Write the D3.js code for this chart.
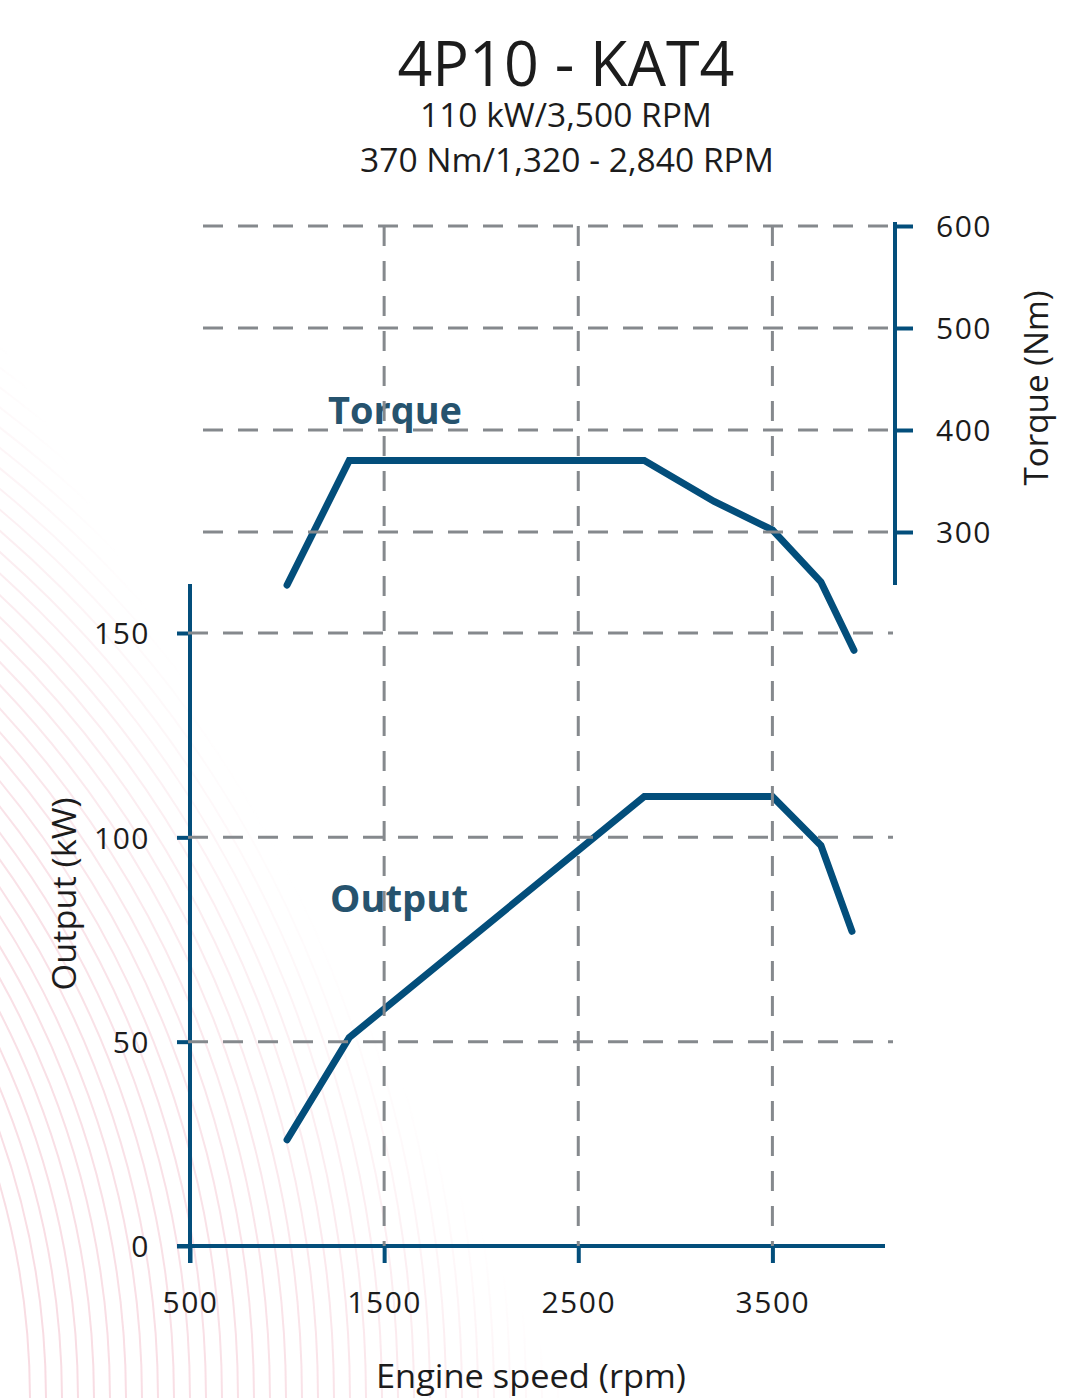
<!DOCTYPE html>
<html>
<head>
<meta charset="utf-8">
<script src="https://cdn.jsdelivr.net/npm/d3@7"></script>
<style>
  html, body { margin: 0; padding: 0; background: #ffffff; }
  svg { display: block; }
</style>
</head>
<body>
<svg id="chart" width="1071" height="1398"></svg>
<script>
// ---------------- data ----------------
const title = "4P10 - KAT4";
const subtitle1 = "110 kW/3,500 RPM";
const subtitle2 = "370 Nm/1,320 - 2,840 RPM";

const xTicks = [500, 1500, 2500, 3500];
const outputTicks = [0, 50, 100, 150];
const torqueTicks = [300, 400, 500, 600];
const gridX = [1500, 2500, 3500];

const torqueRpm = [1000, 1320, 2840, 3200, 3500, 3750, 3920];
const torqueNm  = [248, 370, 370, 330, 302, 251, 184];

const outputRpm = [1000, 1320, 2840, 3500, 3750, 3910];
const outputKw  = [26, 51, 110, 110, 98, 77];

// ---------------- layout ----------------
const svg = d3.select("#chart");
const W = 1071, H = 1398;
const BLUE = "#034e7b";
const GRID = "#85898d";
const TXT = "#1c1c1c";
const FONT = "'Open Sans', 'Noto Sans', sans-serif";

const x = d3.scaleLinear().domain([500, 4080]).range([190, 885]);
const yOut = d3.scaleLinear().domain([0, 150]).range([1246, 633]);
const yTq = d3.scaleLinear().domain([300, 600]).range([532, 226]);

svg.append("rect").attr("width", W).attr("height", H).attr("fill", "#ffffff");

// ---------------- decorative background arcs ----------------
const defs = svg.append("defs");
const lg = defs.append("linearGradient").attr("id", "fade")
  .attr("gradientUnits", "userSpaceOnUse")
  .attr("x1", 0).attr("y1", 1398).attr("x2", 493).attr("y2", 1133);
lg.append("stop").attr("offset", 0).attr("stop-color", "#fff").attr("stop-opacity", 1);
lg.append("stop").attr("offset", 0.5).attr("stop-color", "#fff").attr("stop-opacity", 0.8);
lg.append("stop").attr("offset", 0.75).attr("stop-color", "#fff").attr("stop-opacity", 0.45);
lg.append("stop").attr("offset", 0.9).attr("stop-color", "#fff").attr("stop-opacity", 0);
defs.append("mask").attr("id", "fademask")
  .append("rect").attr("width", W).attr("height", H).attr("fill", "url(#fade)");
const arcs = svg.append("g").attr("mask", "url(#fademask)");
const radii = d3.range(780, 1330, 16);
arcs.selectAll("circle").data(radii).join("circle")
  .attr("cx", -750).attr("cy", 1400).attr("r", d => d)
  .attr("fill", "none").attr("stroke", "#f8dbe2").attr("stroke-width", 2);

// ---------------- title ----------------
svg.append("text").attr("x", 566).attr("y", 86).attr("text-anchor", "middle")
  .attr("font-family", FONT).attr("font-size", 62).attr("fill", TXT)
  .attr("textLength", 337).attr("lengthAdjust", "spacingAndGlyphs")
  .text(title);
svg.append("text").attr("x", 566).attr("y", 127).attr("text-anchor", "middle")
  .attr("font-family", FONT).attr("font-size", 32).attr("fill", TXT)
  .attr("textLength", 292).attr("lengthAdjust", "spacingAndGlyphs")
  .text(subtitle1);
svg.append("text").attr("x", 567).attr("y", 172).attr("text-anchor", "middle")
  .attr("font-family", FONT).attr("font-size", 32).attr("fill", TXT)
  .attr("textLength", 414).attr("lengthAdjust", "spacingAndGlyphs")
  .text(subtitle2);

// ---------------- curves ----------------
const torqueData = torqueRpm.map((r, i) => ({ r, v: torqueNm[i] }));
const outputData = outputRpm.map((r, i) => ({ r, v: outputKw[i] }));

const lineT = d3.line().x(d => x(d.r)).y(d => yTq(d.v));
const lineO = d3.line().x(d => x(d.r)).y(d => yOut(d.v));

// ---------------- axes ----------------
// output (left) axis
const gOut = svg.append("g").attr("transform", "translate(190,0)")
  .call(d3.axisLeft(yOut).tickValues(outputTicks).tickSize(13).tickSizeOuter(0).tickFormat(d3.format("d")));
gOut.select(".domain").remove();
gOut.selectAll(".tick line").attr("stroke", BLUE).attr("stroke-width", 4);
gOut.selectAll(".tick text").attr("x", -40).attr("font-family", FONT).attr("font-size", 30)
  .attr("letter-spacing", 1.5)
  .attr("fill", TXT).attr("text-anchor", "end").attr("dy", "0.36em");
svg.append("line").attr("x1", 190).attr("x2", 190)
  .attr("y1", yOut(162)).attr("y2", 1263)
  .attr("stroke", BLUE).attr("stroke-width", 4);

// x axis
const gX = svg.append("g").attr("transform", "translate(0,1246)")
  .call(d3.axisBottom(x).tickValues(xTicks).tickSize(17).tickSizeOuter(0).tickFormat(d3.format("d")));
gX.select(".domain").remove();
gX.selectAll(".tick line").attr("stroke", BLUE).attr("stroke-width", 4);
gX.selectAll(".tick text").attr("y", 67).attr("font-family", FONT).attr("font-size", 30)
  .attr("letter-spacing", 1.5)
  .attr("fill", TXT).attr("dy", 0);
svg.append("line").attr("x1", 177).attr("x2", x(4080))
  .attr("y1", 1246).attr("y2", 1246)
  .attr("stroke", BLUE).attr("stroke-width", 4);

// torque (right) axis
const gTq = svg.append("g").attr("transform", "translate(895,0)")
  .call(d3.axisRight(yTq).tickValues(torqueTicks).tickSize(18).tickSizeOuter(0).tickFormat(d3.format("d")));
gTq.select(".domain").remove();
gTq.selectAll(".tick line").attr("stroke", BLUE).attr("stroke-width", 4);
gTq.selectAll(".tick text").attr("x", 41).attr("font-family", FONT).attr("font-size", 30)
  .attr("letter-spacing", 1.5)
  .attr("fill", TXT).attr("dy", "0.36em");
svg.append("line").attr("x1", 895).attr("x2", 895)
  .attr("y1", yTq(604)).attr("y2", yTq(248))
  .attr("stroke", BLUE).attr("stroke-width", 4);

// axis titles
svg.append("text").attr("transform", "translate(76,894) rotate(-90)")
  .attr("text-anchor", "middle").attr("font-family", FONT).attr("font-size", 32).attr("fill", TXT)
  .attr("textLength", 193).attr("lengthAdjust", "spacingAndGlyphs")
  .text("Output (kW)");
svg.append("text").attr("transform", "translate(1048,388) rotate(-90)")
  .attr("text-anchor", "middle").attr("font-family", FONT).attr("font-size", 32).attr("fill", TXT)
  .attr("textLength", 195).attr("lengthAdjust", "spacingAndGlyphs")
  .text("Torque (Nm)");
svg.append("text").attr("x", 531).attr("y", 1388).attr("text-anchor", "middle")
  .attr("font-family", FONT).attr("font-size", 32).attr("fill", TXT)
  .attr("textLength", 310).attr("lengthAdjust", "spacingAndGlyphs")
  .text("Engine speed (rpm)");

// curves
svg.append("path").datum(torqueData).attr("d", lineT)
  .attr("fill", "none").attr("stroke", BLUE).attr("stroke-width", 7)
  .attr("stroke-linecap", "round").attr("stroke-linejoin", "miter");
svg.append("path").datum(outputData).attr("d", lineO)
  .attr("fill", "none").attr("stroke", BLUE).attr("stroke-width", 7)
  .attr("stroke-linecap", "round").attr("stroke-linejoin", "miter");

// series labels
svg.append("text").attr("x", 328).attr("y", 424)
  .attr("font-family", FONT).attr("font-weight", 700).attr("font-size", 38).attr("fill", "#26536e")
  .attr("textLength", 134).attr("lengthAdjust", "spacingAndGlyphs")
  .text("Torque");
svg.append("text").attr("x", 330).attr("y", 912)
  .attr("font-family", FONT).attr("font-weight", 700).attr("font-size", 38).attr("fill", "#26536e")
  .attr("textLength", 138).attr("lengthAdjust", "spacingAndGlyphs")
  .text("Output");

// ---------------- grid (drawn on top, as in reference) ----------------
const grid = svg.append("g").attr("stroke", GRID).attr("stroke-width", 3)
  .attr("stroke-dasharray", "20,15").attr("fill", "none");
grid.selectAll("line.tq").data(torqueTicks).join("line").attr("class", "tq")
  .attr("x1", 203).attr("x2", 895).attr("y1", d => yTq(d)).attr("y2", d => yTq(d));
grid.selectAll("line.out").data(outputTicks.filter(d => d > 0)).join("line").attr("class", "out")
  .attr("x1", 188).attr("x2", 893).attr("y1", d => yOut(d)).attr("y2", d => yOut(d));
grid.selectAll("line.vx").data(gridX).join("line").attr("class", "vx")
  .attr("x1", d => x(d)).attr("x2", d => x(d)).attr("y1", yTq(600)).attr("y2", 1246);
</script>
</body>
</html>
